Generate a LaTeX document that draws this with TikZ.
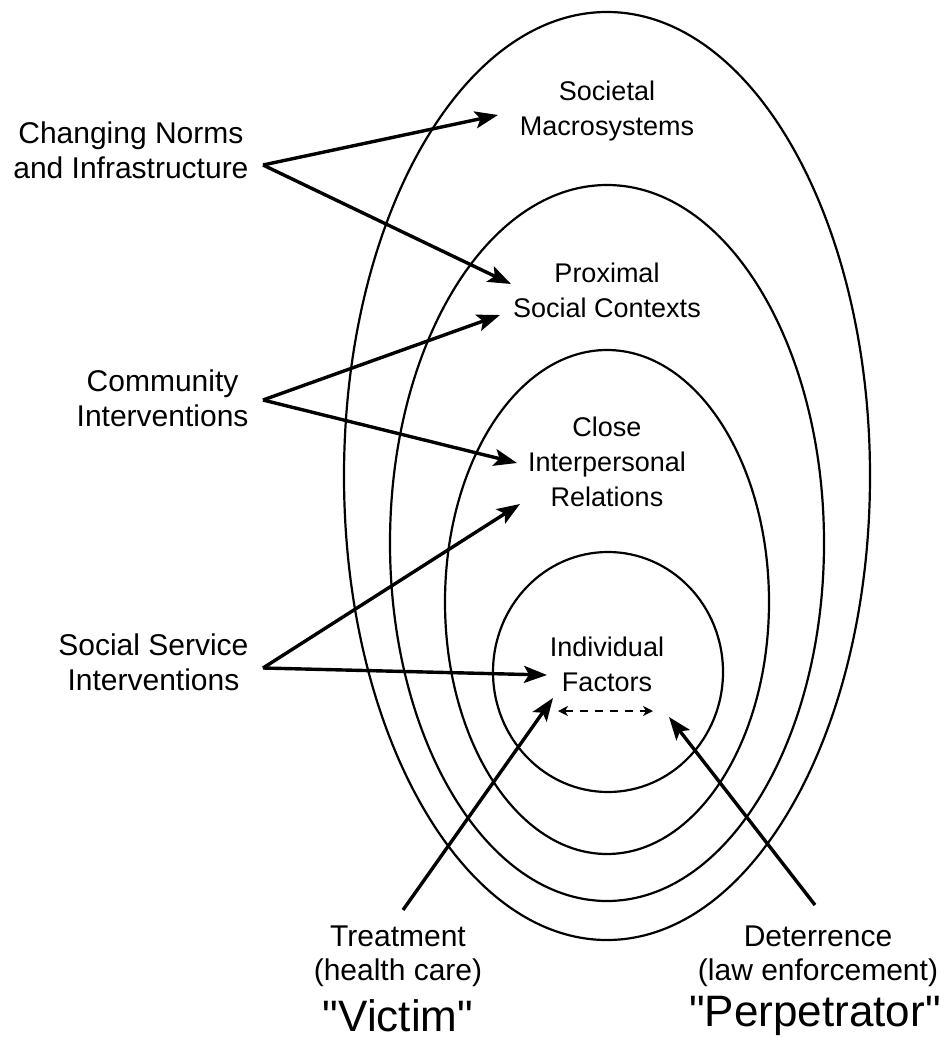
\documentclass[tikz,border=0pt]{standalone}
\usepackage{fontspec}
\setmainfont{Liberation Sans}
\usetikzlibrary{arrows.meta}

\tikzset{
  ring/.style={line width=2.2pt},
  push/.style={line width=3.4pt, -{Stealth[length=23pt,width=17pt,inset=5pt]}},
  swap/.style={line width=1.5pt, dash pattern=on 8pt off 7pt, {Stealth[length=10pt,width=10pt,inset=3pt]}-{Stealth[length=10pt,width=10pt,inset=3pt]}},
  inlabel/.style={align=center, font=\fontsize{27}{35}\selectfont},
  sidelabel/.style={align=center, anchor=east, font=\fontsize{30}{35}\selectfont},
  footlabel/.style={align=center, font=\fontsize{30}{34}\selectfont},
  rolelabel/.style={font=\fontsize{44}{50}\selectfont}
}

\begin{document}
\begin{tikzpicture}[x=1pt, y=-1pt]
        \useasboundingbox (0,0) rectangle (945,1041);

        \draw[ring] (607,476) ellipse [x radius=263pt, y radius=464pt];
        \draw[ring] (607,543) ellipse [x radius=217pt, y radius=358pt];
        \draw[ring] (607,602) ellipse [x radius=162pt, y radius=252pt];
        \draw[ring] (608,672) ellipse [x radius=115pt, y radius=120pt];

        \node[inlabel] (macro) at (607,111) {Societal\\Macrosystems};
        \node[inlabel] (prox) at (607,290) {Proximal\\Social Contexts};
        \node[inlabel] (close) at (607,462) {Close\\Interpersonal\\Relations};
        \node[inlabel] (indiv) at (607,664) {Individual\\Factors};

        \node[sidelabel] (norms) at (252,150) {Changing Norms\\and Infrastructure};
        \node[sidelabel] (comm) at (252,398) {Community\\Interventions};
        \node[sidelabel] (serv) at (252,662) {Social Service\\Interventions};

        \node[footlabel] (treat) at (398,956) {Treatment\\(health care)};
        \node[footlabel] (deter) at (818,956) {Deterrence\\(law enforcement)};
        \node[rolelabel] (victim) at (398,1016) {\textquotedbl Victim\textquotedbl};
        \node[rolelabel] (perp) at (815,1016) {\textquotedbl Perpetrator\textquotedbl};

        \coordinate (normsA) at (263,165);
        \coordinate (commA) at (263,400);
        \coordinate (servA) at (263,668);
        \coordinate (treatA) at (403,910);
        \coordinate (deterA) at (815,905);

        \coordinate (macroT) at (498,115);
        \coordinate (proxT) at (511,284);
        \coordinate (proxB) at (500,315);
        \coordinate (closeT) at (517,463);
        \coordinate (closeB) at (520,504);
        \coordinate (indivW) at (547,675);
        \coordinate (indivL) at (553,698);
        \coordinate (indivR) at (669,717);
        \coordinate (dashL) at (558,711);
        \coordinate (dashR) at (653,711);

        \draw[push] (normsA) -- (macroT);
        \draw[push] (normsA) -- (proxT);
        \draw[push] (commA) -- (proxB);
        \draw[push] (commA) -- (closeT);
        \draw[push] (servA) -- (closeB);
        \draw[push] (servA) -- (indivW);
        \draw[push] (treatA) -- (indivL);
        \draw[push] (deterA) -- (indivR);

        \draw[swap] (dashL) -- (dashR);
\end{tikzpicture}
\end{document}
